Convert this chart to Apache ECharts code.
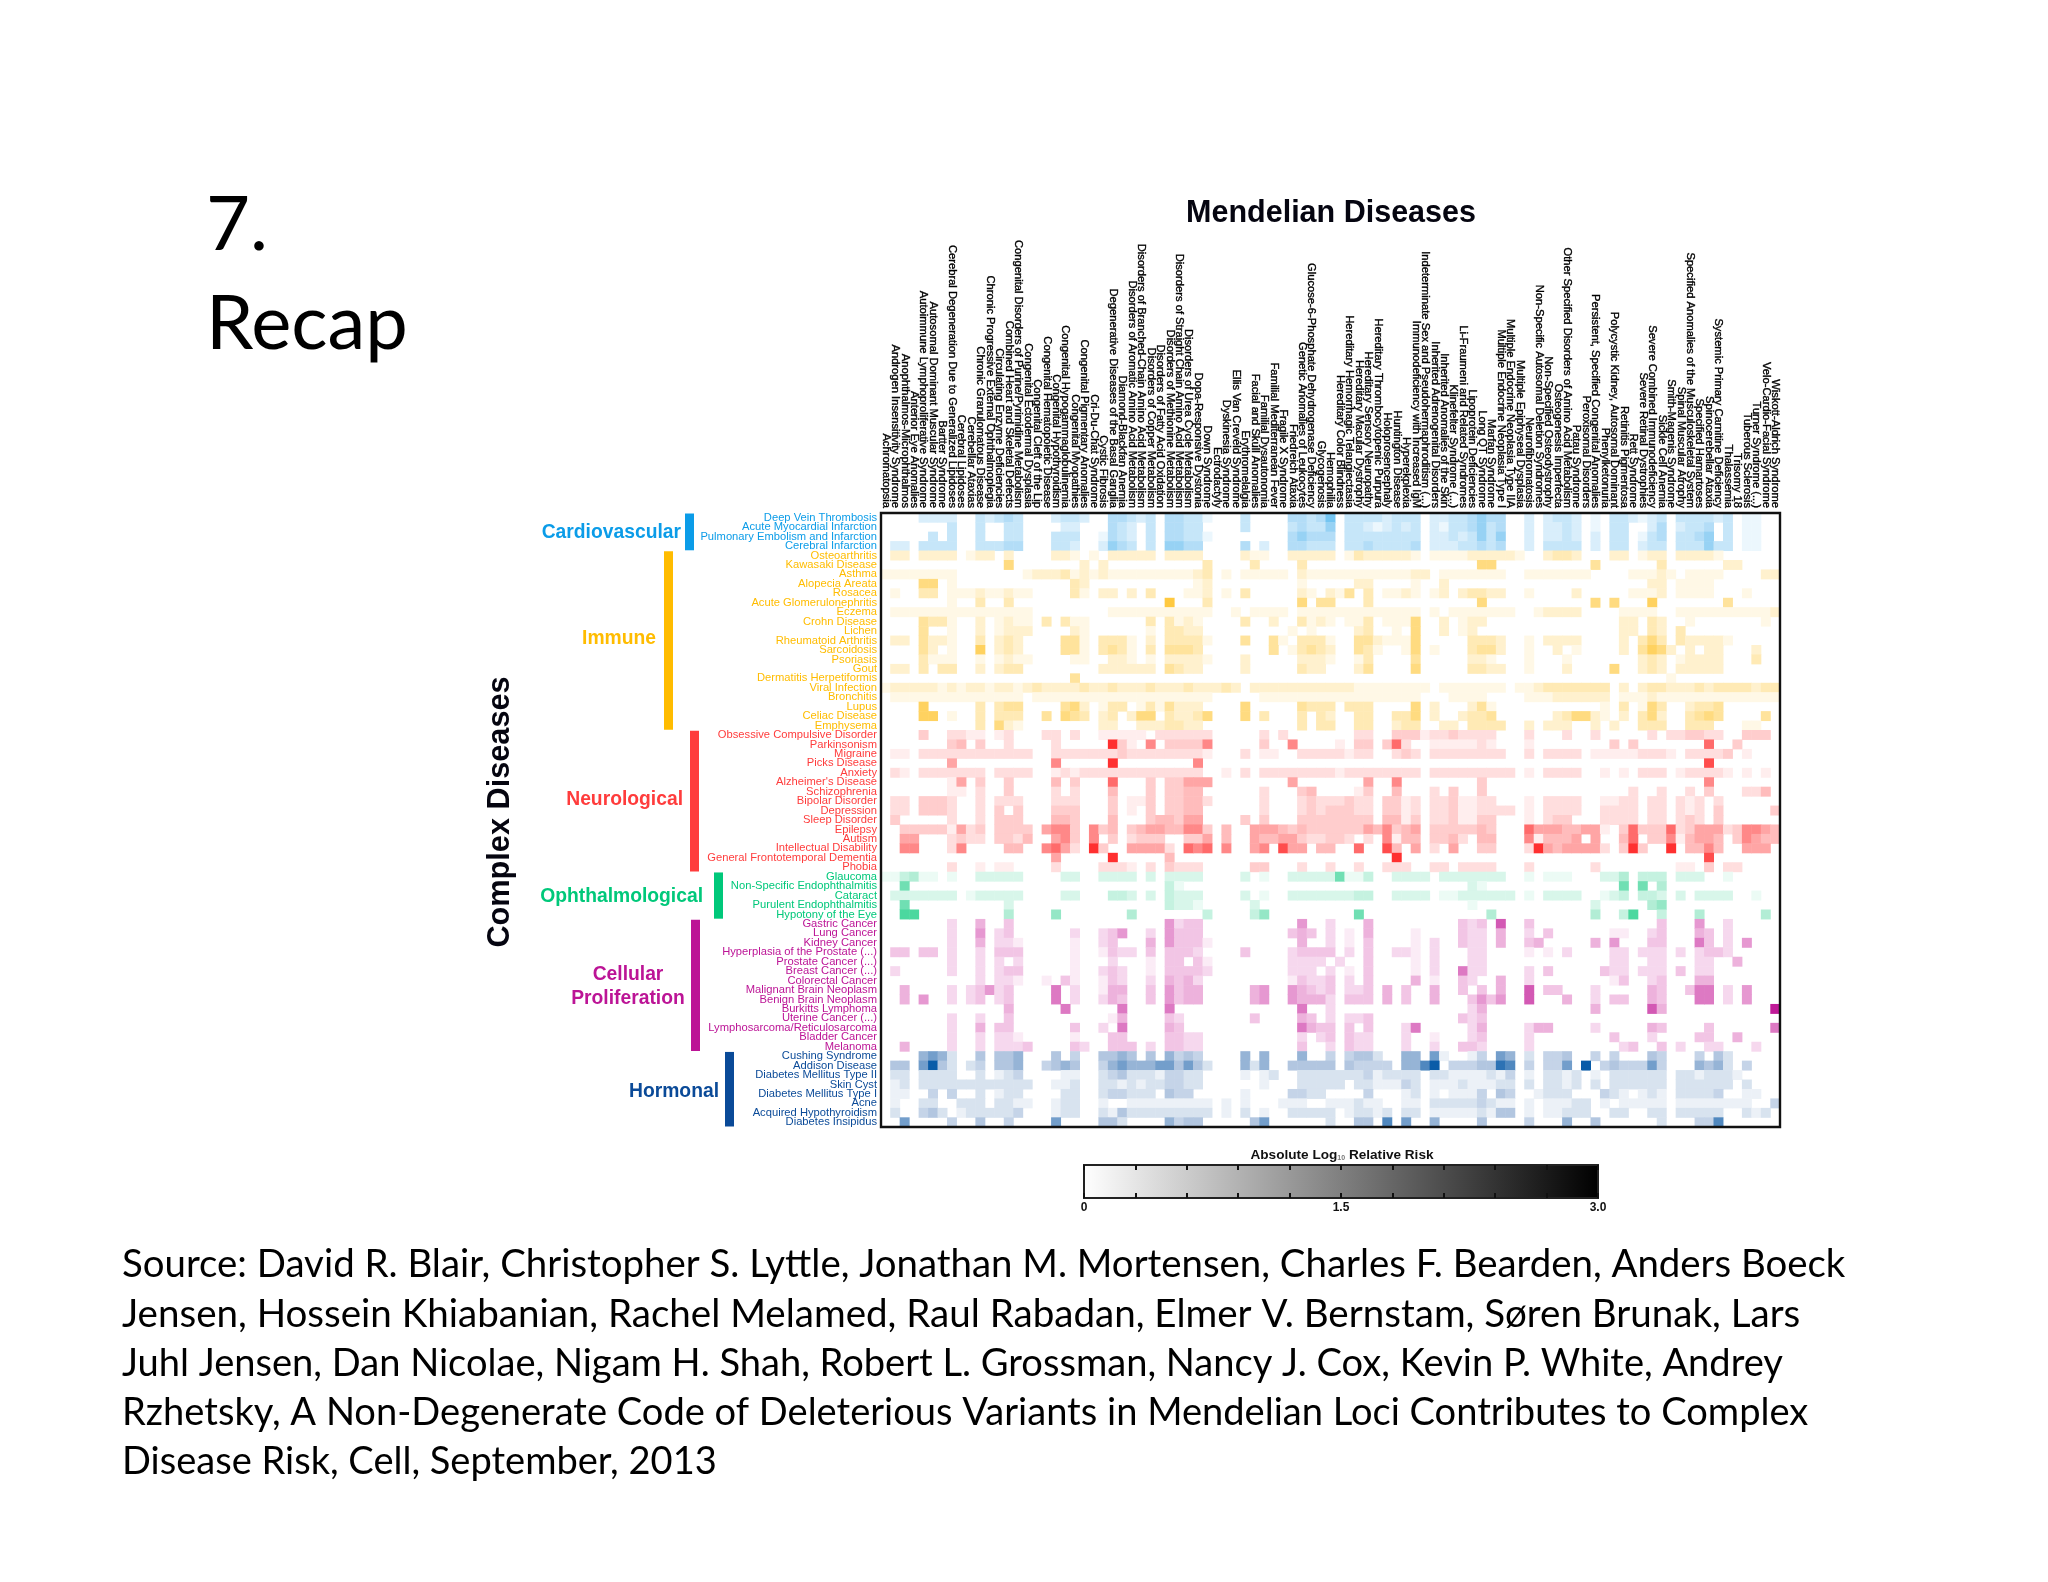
<!DOCTYPE html>
<html><head><meta charset="utf-8">
<script src="https://cdn.jsdelivr.net/npm/echarts@6/dist/echarts.min.js"></script>
<style>html,body{margin:0;padding:0;background:#fff}
#fig,#slide{position:absolute;left:0;top:0;width:2048px;height:1582px}
#fig{filter:blur(0.7px)}</style>
</head><body><div id="fig"></div><div id="slide"></div>
<script>
// ---------- categories ----------
const mendelianDiseases = ["Achromatopsia","Androgen Insensitivity Syndrome","Anophthalmos-Microphthalmos","Anterior Eye Anomalies","Autoimmune Lymphoproliferative Syndrome","Autosomal Dominant Muscular Syndrome","Bartter Syndrome","Cerebral Degeneration Due to Generalized Lipidoses","Cerebral Lipidoses","Cerebellar Ataxias","Chronic Granulomatous Disease","Chronic Progressive External Ophthalmoplegia","Circulating Enzyme Deficiencies","Combined Heart and Skeletal Defects","Congenital Disorders of Purine/Pyrimidine Metabolism","Congenital Ectodermal Dysplasia","Congenital Cleft of the Lip","Congenital Hematopoietic Disease","Congenital Hypothyroidism","Congenital Hypogammaglobulinemia","Congenital Myopathies","Congenital Pigmentary Anomalies","Cri-Du-Chat Syndrome","Cystic Fibrosis","Degenerative Diseases of the Basal Ganglia","Diamond-Blackfan Anemia","Disorders of Aromatic Amino Acid Metabolism","Disorders of Branched-Chain Amino Acid Metabolism","Disorders of Copper Metabolism","Disorders of Fatty Acid Oxidation","Disorders of Methionine Metabolism","Disorders of Straight Chain Amino Acid Metabolism","Disorders of Urea Cycle Metabolism","Dopa-Responsive Dystonia","Down Syndrome","Ectrodactyly","Dyskinesia Syndrome","Ellis Van Creveld Syndrome","Erythromelalgia","Facial and Skull Anomalies","Familial Dysautonomia","Familial Mediterranean Fever","Fragile X Syndrome","Friedreich Ataxia","Genetic Anomalies of Leukocytes","Glucose-6-Phosphate Dehydrogenase Deficiency","Glycogenosis","Hemophilia","Hereditary Color Blindness","Hereditary Hemorrhagic Telangiectasia","Hereditary Macular Dystrophy","Hereditary Sensory Neuropathy","Hereditary Thrombocytopenic Purpura","Holoprosencephaly","Huntington Disease","Hyperekplexia","Immunodeficiency with Increased IgM","Indeterminate Sex and Pseudohermaphroditism (...)","Inherited Adrenogenital Disorders","Inherited Anomalies of the Skin","Klinefelter Syndrome (...)","Li-Fraumeni and Related Syndromes","Lipoprotein Deficiencies","Long QT Syndrome","Marfan Syndrome","Multiple Endocrine Neoplasia Type I","Multiple Endocrine Neoplasia Type IIA","Multiple Epiphyseal Dysplasia","Neurofibromatosis","Non-Specific Autosomal Deletion Syndromes","Non-Specified Osteodystrophy","Osteogenesis Imperfecta","Other Specified Disorders of Amino Acid Metabolism","Patau Syndrome","Peroxisomal Disorders","Persistent, Specified Congenital Anomalies","Phenylketonuria","Polycystic Kidney, Autosomal Dominant","Retinitis Pigmentosa","Rett Syndrome","Severe Retinal Dystrophies","Severe Combined Immunodeficiency","Sickle Cell Anemia","Smith-Magenis Syndrome","Spinal Muscular Atrophy","Specified Anomalies of the Musculoskeletal System","Specified Hamartoses","Spinocerebellar Ataxia","Systemic Primary Carnitine Deficiency","Thalassemia","Trisomy 18","Tuberous Sclerosis","Turner Syndrome (...)","Velo-Cardio-Facial Syndrome","Wiskott-Aldrich Syndrome"];

const cardiovascularDiseases = ["Deep Vein Thrombosis","Acute Myocardial Infarction","Pulmonary Embolism and Infarction","Cerebral Infarction"];
const immuneDiseases = ["Osteoarthritis","Kawasaki Disease","Asthma","Alopecia Areata","Rosacea","Acute Glomerulonephritis","Eczema","Crohn Disease","Lichen","Rheumatoid Arthritis","Sarcoidosis","Psoriasis","Gout","Dermatitis Herpetiformis","Viral Infection","Bronchitis","Lupus","Celiac Disease","Emphysema"];
const neurologicalDiseases = ["Obsessive Compulsive Disorder","Parkinsonism","Migraine","Picks Disease","Anxiety","Alzheimer's Disease","Schizophrenia","Bipolar Disorder","Depression","Sleep Disorder","Epilepsy","Autism","Intellectual Disability","General Frontotemporal Dementia","Phobia"];
const ophthalmologicalDiseases = ["Glaucoma","Non-Specific Endophthalmitis","Cataract","Purulent Endophthalmitis","Hypotony of the Eye"];
const proliferationDiseases = ["Gastric Cancer","Lung Cancer","Kidney Cancer","Hyperplasia of the Prostate (...)","Prostate Cancer (...)","Breast Cancer (...)","Colorectal Cancer","Malignant Brain Neoplasm","Benign Brain Neoplasm","Burkitts Lymphoma","Uterine Cancer (...)","Lymphosarcoma/Reticulosarcoma","Bladder Cancer","Melanoma"];
const hormonalDiseases = ["Cushing Syndrome","Addison Disease","Diabetes Mellitus Type II","Skin Cyst","Diabetes Mellitus Type I","Acne","Acquired Hypothyroidism","Diabetes Insipidus"];

// ---------- values: one digit per Mendelian disease (steps of 0.3) ----------
const cardiovascularValues = [
"0000222200 3234300023 3200443230 4433100030 0004434603 3332333022 3345440020 2332010332 1230333323 01100",
"0000000300 3003300002 2000432030 4433000030 0003433503 3212323021 3345340020 2232010330 0240233403 01100",
"0000030300 3003300033 3001432030 4433100000 0004544403 3333333022 3235350020 2232020330 1340334503 01100",
"0220333300 3334400033 2002543030 5544000040 2004433303 3433334022 2334340020 3333020330 2330333533 01100"];
const immuneValues = [
"0220222201 2202000022 1010222220 2222000021 1002222201 3222221011 1122222100 2332000220 1220222210 00000",
"0000000000 0005000000 0202000000 0000300003 0000300000 0000000000 0005500000 0000040000 0030000002 20000",
"1111111100 0000012223 1212111111 1112301011 1110211111 1111112201 1111110011 1111100001 1121011110 00022",
"0000550100 0000000000 3200000000 0001200000 0000100000 2200001002 0000000000 0000000000 0220111100 00000",
"0100330111 2112110000 3102202030 0011201030 0000210214 0301121012 0233220010 0002000001 1120111100 01000",
"0000000100 3003000000 0000000000 7000300000 0000504400 0300000000 0005000000 0000050500 0600000004 00000",
"0111111111 1111110000 0000111111 1111100101 1110111111 1111111010 1111111001 2222000011 1100111111 11112",
"0000433100 2012110303 1100000030 3121000030 0200312101 1301115002 0122000000 0000000022 0320010000 00010",
"0000400100 2012220000 2100000010 3322000000 0001010000 2300105002 0120000000 0000000022 0320300000 00000",
"0220422100 3023200004 4103331020 3333100040 0410333100 4421115000 0033320010 2222000020 3530322221 00000",
"0000420100 6023200004 4103431030 4443000000 0401343200 4310015010 0034420010 0201000020 4652020220 00200",
"0000311100 1012110000 1100221010 2222100020 0000222100 1300004000 0022100010 0010000000 2320122220 00300",
"0220303300 2023300000 0002222220 4322000020 0000322000 2400005000 0033220010 0020000500 2320222220 00000",
"0000000000 0000000000 4000000000 0000000000 0000000000 0000000000 0000000000 0000000000 0001000000 00000",
"1222221212 2122123222 2322322232 2232223202 2222222222 1111111101 1111110112 3333333020 2332223233 33233",
"0111111111 1111101111 1111111111 1111100000 1111111111 1111111000 1111000011 1222222011 1211111111 11111",
"0000600000 3034400004 5201330131 4222000050 0000433303 3300005020 0024100000 0000001030 1530023340 00000",
"0000660100 3033300405 4302302550 3223500050 3000303200 3300335020 0233400000 0235521020 3520034540 00040",
"0000000000 3052100000 0002200222 3322000000 0000303300 3300233002 2033330020 2220020200 3330033300 01100"];
const neurologicalValues = [
"0000300221 1012000220 2001111102 2222200000 2020000000 2200333122 3222200020 0020020000 0202233220 03330",
"0000000340 3002000020 0000931060 3333600000 3006000010 3303720011 1112100010 0000000303 0000000700 30000",
"0110222222 2222220022 2222232222 2222100020 1100222221 2200232022 2222220020 2222011111 2221022223 01000",
"0000000500 0000000060 0000900000 0006000000 0000000000 0000000000 0000000000 0000000000 0000000800 00000",
"0210222222 2022220012 1222222222 2222001020 2222222212 2222222022 2222222010 2222001010 2220122221 01010",
"0000000150 3003000040 3000700030 3355500000 0005000000 0500600000 0003000000 0000000000 0000000600 00000",
"0000000110 2003000020 2000400030 3344000000 2000340000 1300400020 3003000000 0000000002 0020020300 02240",
"0220333200 2022200022 2000301130 3344200000 2000232223 2203312022 3112200010 2222001122 0220212020 00000",
"0220333200 2030300033 3000301030 3344000000 2000232333 2203312022 3112222010 2222002222 0220212030 00003",
"0300000200 2033300044 3000400034 4355000030 3000333333 3304413022 3113300010 2330002222 0220232030 00000",
"0033333152 3033330566 3063403455 4466304005 5543433333 3546345033 3334300075 5544551037 3337235552 36654",
"0055000232 2033240056 3060302333 0033504005 4455322332 0206144033 4204400061 4445050047 0336145540 36544",
"0066000260 0004400675 2093005555 2076706005 6085504400 7008405020 5003300029 5455552039 3009044640 05550",
"0000000000 0000000050 0000900000 4000000000 0000000000 0000900000 0000000000 0000000000 0000000800 00000",
"0000000200 1011000020 0002221020 3222000003 3000200200 2002220022 0222200020 0000020000 0000110302 20000"];
const ophthalmologicalValues = [
"1134110100 2222200002 2002222020 2222000020 1002222261 1300222202 2222220010 1110002240 3330222001 00000",
"0060000000 0000000000 0000000000 3100000000 0000000000 0000000000 0021000000 0000000060 6040000000 00000",
"0222222201 2222200002 2000332020 3222000020 1002222222 3300222201 1222222010 2222001230 3320202222 00100",
"0060000000 0002000000 0000000000 3221000002 0000000000 0000000000 0010000000 0000020000 0450000000 00000",
"0077000000 0004000050 0000004000 0000300003 5000000000 6000000000 0000400000 0000040037 0030004000 00040"];
const proliferationValues = [
"0000000200 4003000000 0000000000 5233000000 0000500200 0400000000 0323070030 0000000000 0030005002 00000",
"0000000200 5023000000 2002350020 5333000000 0003430201 0400001000 0322040020 3000000110 0230004302 00000",
"0000000200 4022100000 1002300040 5333100000 0000400201 0300001020 0322040034 0000040500 0330006302 05000",
"0330330200 2033300000 1001322030 3332000030 0002333302 0300221020 0022000010 1020000220 2220202332 00000",
"0000000200 2020200000 1000200010 3303100000 0002222020 0300001020 0022000000 0000000220 0220002200 40000",
"0200000200 2023300000 1002320010 3333200000 0002220201 0300001020 0622000020 3000003220 2220302200 00000",
"0000000000 2022100103 1001320020 4342000000 0001322302 0300004010 0320040020 0000000130 0230004400 00000",
"0040000202 3523000060 2001440030 5344000004 5005432302 2304030040 0303040070 3300020000 0430036602 05000",
"0040500202 3023000060 2002430030 5344000004 5005444203 3304030040 0035350070 0040020330 0430006602 05000",
"0000000000 0004000006 0000060000 6000000000 0000600200 0000000000 0024000000 0000040000 0740000000 00009",
"0000000200 2003000000 0000140000 3200000003 0000430202 2300000000 0323000000 0000000000 0000000000 00000",
"0000000200 4033000000 3002060000 4300000000 0000643303 0300026000 0024000024 4000020000 0430000300 00006",
"0000000200 2022100000 1000330000 3322000000 0000202303 2200020010 0023000020 0000000300 0200003300 40000",
"0040000200 2022230000 3200333020 3322000000 0000300203 2200020020 0332000020 0000000023 0030200220 00200"];
const hormonalValues = [
"0000565200 4044500040 3004454040 5343000050 5000500303 4420055061 0013065020 3340030300 0430003042 00000",
"0440694202 3044500345 4003565556 6464200052 5004444404 3333055790 3334487030 3360903433 3630005452 03000",
"0220222200 2012300001 1002342221 3322000010 1200222222 2312222022 1111213010 2212010222 2220221222 10000",
"0120222222 2222220011 2002212122 3322000000 1000222220 2211132011 1211122020 2212020222 2220222222 02000",
"0110030300 2012200002 2002332220 4330000010 0003322000 0300012010 1113043001 2220003210 1210222230 01100",
"0100220022 2022110012 2001001111 1111101010 0011100111 2110011022 2223211010 1112201011 1110111111 11003",
"0200342012 2222300012 2002142222 2222201020 1002222201 2212022011 1112144010 1122200220 0220222220 02120",
"0060000300 4003000060 0004420000 5344000004 6000000200 4407060050 0004000030 0050040000 0020003370 00000"];

// ---------- group labels and colours ----------
const groupNames = ["Cardiovascular","Immune","Neurological","Ophthalmological","Cellular\nProliferation","Hormonal"];
const groupRows = [cardiovascularDiseases,immuneDiseases,neurologicalDiseases,ophthalmologicalDiseases,proliferationDiseases,hormonalDiseases];
const groupValues = [cardiovascularValues,immuneValues,neurologicalValues,ophthalmologicalValues,proliferationValues,hormonalValues];
const groupColors = ["#0B9CE8","#FFBC00","#FF3C3C","#00C87A","#BC1496","#0A4A98"];
const cellRamps = [["#ffffff","#A9D9F6","#0B9CE8"],["#ffffff","#FFDF90","#FFB800"],["#ffffff","#FFB4B4","#FF3030"],["#ffffff","#A8EBD0","#00C878"],["#ffffff","#EBA8D8","#C01A98"],["#ffffff","#A8BFDC","#0A5CA8"]];
const legendTicks = {0:"0",1.5:"1.5",3:"3.0"};
const sourceLines = ["Source: David R. Blair, Christopher S. Lyttle, Jonathan M. Mortensen, Charles F. Bearden, Anders Boeck","Jensen, Hossein Khiabanian, Rachel Melamed, Raul Rabadan, Elmer V. Bernstam, Søren Brunak, Lars","Juhl Jensen, Dan Nicolae, Nigam H. Shah, Robert L. Grossman, Nancy J. Cox, Kevin P. White, Andrey","Rzhetsky, A Non-Degenerate Code of Deleterious Variants in Mendelian Loci Contributes to Complex","Disease Risk, Cell, September, 2013"];

// ---------- layout (style only) ----------
const sourceFontSizes = [38.4,38.55,38.1,38.1,38.05];
const bracketLeft = [685,664,690,714,691,725];
const bracketWidth = 9;
const groupLabelAnchor = [[681,533,"right"],[656,639,"right"],[683,800,"right"],[703,897,"right"],[628,987,"center"],[719,1092,"right"]];
const FIG = "Liberation Sans", SLIDE = "Lato";

const yData = [], series = [], visualMaps = [], ranges = [];
let offset = 0;
groupRows.forEach((rows,g)=>{
  const cells=[];
  rows.forEach((name,r)=>{
    yData.push({value:name,textStyle:{color:groupColors[g]}});
    const digits = groupValues[g][r].replace(/\s/g,"");
    for(let c=0;c<mendelianDiseases.length;c++){
      const d = +(digits[c]||0);
      if(d>0) cells.push([c,offset+r,d*0.3]);
    }
  });
  ranges.push([0,offset,offset+rows.length-1,g]);
  series.push({type:"heatmap",xAxisIndex:0,yAxisIndex:0,data:cells,silent:true,emphasis:{disabled:true},progressive:0,animation:false});
  visualMaps.push({show:false,type:"continuous",seriesIndex:g,min:0,max:2.7,inRange:{color:cellRamps[g]}});
  offset+=rows.length;
});
series.push({type:"custom",xAxisIndex:0,yAxisIndex:0,silent:true,z:5,data:ranges,encode:{x:0,y:[1,2]},animation:false,
  renderItem(p,api){
    const g=api.value(3), h=api.size([0,1])[1];
    const a=api.coord([0,api.value(1)])[1]-h/2, b=api.coord([0,api.value(2)])[1]+h/2;
    return {type:"rect",shape:{x:bracketLeft[g],y:a+0.5,width:bracketWidth,height:b-a-1},style:{fill:groupColors[g]}};
  }});

const gridBox={left:881,top:513,width:899,height:614};
const graphics=[
 {type:"rect",z:50,silent:true,shape:{x:gridBox.left,y:gridBox.top,width:gridBox.width,height:gridBox.height},style:{fill:"none",stroke:"#111",lineWidth:2.4}},
 {type:"text",x:1331,y:214,style:{text:"Mendelian Diseases",font:"bold 30.5px '"+FIG+"'",fill:"#050510",align:"center",textVerticalAlign:"middle"}},
 {type:"text",x:501,y:812,rotation:Math.PI/2,style:{text:"Complex Diseases",font:"bold 30.7px '"+FIG+"'",fill:"#050510",align:"center",textVerticalAlign:"middle"}},
 {type:"text",x:1342,y:1155,style:{align:"center",textVerticalAlign:"middle",text:"{b|Absolute Log}{s|10}{b| Relative Risk}",rich:{b:{font:"bold 13.6px '"+FIG+"'",fill:"#111"},s:{font:"bold 7px '"+FIG+"'",fill:"#777",padding:[6,0,0,0]}}}}
];
groupNames.forEach((n,g)=>{const a=groupLabelAnchor[g];
  graphics.push({type:"text",x:a[0],y:a[1],style:{text:n,font:"bold 19.3px '"+FIG+"'",lineHeight:24,fill:groupColors[g],align:a[2],textVerticalAlign:"middle"}});
});

const option={
 backgroundColor:"#fff",animation:false,
 grid:[{...gridBox},{left:1084,top:1165,width:514,height:33,show:true,borderColor:"#222",borderWidth:2,
   backgroundColor:{type:"linear",x:0,y:0,x2:1,y2:0,colorStops:[{offset:0,color:"#fff"},{offset:1,color:"#000"}]}}],
 xAxis:[
  {type:"category",gridIndex:0,position:"top",data:mendelianDiseases,axisLine:{show:false},axisTick:{show:false},splitLine:{show:false},
   axisLabel:{interval:0,rotate:90,margin:5,fontSize:11.2,fontFamily:FIG,color:"#000",textBorderColor:"#000",textBorderWidth:0.35,hideOverlap:false}},
  {type:"value",gridIndex:1,position:"bottom",min:0,max:3,interval:0.3,axisLine:{show:false},splitLine:{show:false},
   axisTick:{show:true,inside:true,length:5,lineStyle:{color:"#111",width:2}},
   axisLabel:{margin:4,fontSize:12,fontWeight:"bold",fontFamily:FIG,color:"#111",hideOverlap:false,
     formatter:v=>legendTicks[Math.round(v*10)/10]||""}},
  {type:"value",gridIndex:1,position:"top",min:0,max:3,interval:0.3,axisLine:{show:false},splitLine:{show:false},
   axisTick:{show:true,inside:true,length:5,lineStyle:{color:"#111",width:2}},axisLabel:{show:false}}
 ],
 yAxis:[
  {type:"category",gridIndex:0,inverse:true,data:yData,axisLine:{show:false},axisTick:{show:false},splitLine:{show:false},
   axisLabel:{interval:0,margin:4,fontSize:11.2,fontFamily:FIG,hideOverlap:false}},
  {type:"value",gridIndex:1,show:false,min:0,max:1}
 ],
 visualMap:visualMaps,
 series:series,
 graphic:graphics
};
echarts.init(document.getElementById("fig"),null,{width:2048,height:1582}).setOption(option);

// crisp slide text on its own layer
const slideGraphics=[
 {type:"text",x:206,y:225,style:{text:"7.",font:"76px "+SLIDE,fill:"#000",textVerticalAlign:"middle"}},
 {type:"text",x:206,y:324,style:{text:"Recap",font:"76px "+SLIDE,fill:"#000",textVerticalAlign:"middle"}}
];
sourceLines.forEach((t,i)=>slideGraphics.push({type:"text",x:122,y:1265+i*49.3,style:{text:t,font:sourceFontSizes[i]+"px "+SLIDE,fill:"#000",textVerticalAlign:"middle"}}));
echarts.init(document.getElementById("slide"),null,{width:2048,height:1582}).setOption({backgroundColor:"transparent",animation:false,graphic:slideGraphics});
</script></body></html>
